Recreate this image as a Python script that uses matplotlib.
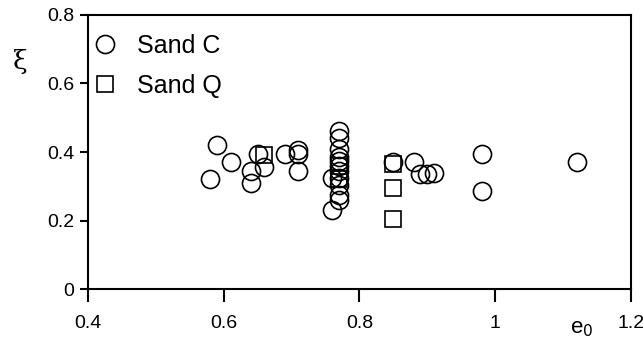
import matplotlib.pyplot as plt

plt.rcParams['font.family'] = ['Liberation Sans', 'DejaVu Sans']

# Sand C (circles)
sand_c_e0 = [0.58, 0.59, 0.61, 0.64, 0.64, 0.65, 0.66, 0.69, 0.71, 0.71, 0.71,
             0.77, 0.77, 0.77, 0.77, 0.77, 0.77, 0.77, 0.77, 0.77, 0.77, 0.77,
             0.76, 0.76, 0.85, 0.88, 0.89, 0.90, 0.91, 0.98, 0.98, 1.12]
sand_c_xi = [0.32, 0.42, 0.37, 0.345, 0.31, 0.395, 0.355, 0.395, 0.405, 0.395, 0.345,
             0.46, 0.44, 0.41, 0.385, 0.375, 0.36, 0.345, 0.325, 0.305, 0.275, 0.26,
             0.325, 0.23, 0.37, 0.37, 0.335, 0.335, 0.34, 0.395, 0.285, 0.37]

# Sand Q (squares)
sand_q_e0 = [0.66, 0.77, 0.77, 0.85, 0.85, 0.85]
sand_q_xi = [0.39, 0.36, 0.32, 0.365, 0.295, 0.205]

fig = plt.figure(figsize=(6.43, 3.56), dpi=100)
ax = fig.add_axes([0.137, 0.188, 0.844, 0.770])

ax.plot(sand_c_e0, sand_c_xi, 'o', mfc='none', mec='black', ms=13, mew=1.2,
        label='Sand C')
ax.plot(sand_q_e0, sand_q_xi, 's', mfc='none', mec='black', ms=11, mew=1.2,
        label='Sand Q')

ax.set_xlim(0.4, 1.2)
ax.set_ylim(0, 0.8)
ax.set_xticks([0.4, 0.6, 0.8, 1.0, 1.2])
ax.set_xticklabels(['0.4', '0.6', '0.8', '1', '1.2'])
ax.set_yticks([0, 0.2, 0.4, 0.6, 0.8])
ax.set_yticklabels(['0', '0.2', '0.4', '0.6', '0.8'])
ax.tick_params(axis='both', direction='out', labelsize=14, width=1.5)
ax.tick_params(axis='x', length=9, pad=10)
ax.tick_params(axis='y', length=6, pad=4)
for s in ax.spines.values():
    s.set_linewidth(1.5)

ax.legend(loc='upper left', frameon=False, fontsize=18, handlelength=1.0,
          handletextpad=0.75, labelspacing=0.62, borderpad=0, borderaxespad=0,
          bbox_to_anchor=(0.009, 0.93))

fig.text(20 / 643, 1 - 62 / 356, 'ξ', fontsize=19, family='DejaVu Serif',
         ha='center', va='center')
fig.text(582 / 643, 1 - 328 / 356, r'e$_0$', fontsize=16, ha='center', va='center')

fig.savefig('out.png', dpi=100)
